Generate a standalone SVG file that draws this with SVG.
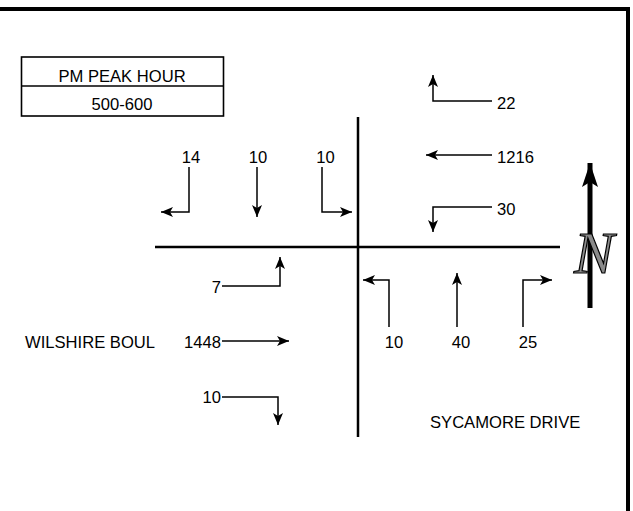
<svg xmlns="http://www.w3.org/2000/svg" width="633" height="511" viewBox="0 0 633 511">
  <style>
    .t { font-family: "Liberation Sans", Arial, sans-serif; font-size: 16.6px; fill: #000; }
    .m { text-anchor: middle; }
    .e { text-anchor: end; }
    .arr { fill: none; stroke: #000; stroke-width: 1.5; marker-end: url(#ah); }
    .road { fill: none; stroke: #000; stroke-width: 2.5; }
  </style>
  <defs>
    <marker id="ah" viewBox="0 0 12 10" refX="12" refY="5" markerWidth="12" markerHeight="10" markerUnits="userSpaceOnUse" orient="auto">
      <path d="M0,0 L12,5 L0,10 L3,5 Z" fill="#000"/>
    </marker>
    <marker id="nh" viewBox="0 0 24 16" refX="24" refY="8" markerWidth="24" markerHeight="16" markerUnits="userSpaceOnUse" orient="auto">
      <path d="M0,0 L24,8 L0,16 L5,8 Z" fill="#000"/>
    </marker>
  </defs>
  <rect width="633" height="511" fill="#fff"/>
  <g id="frame">
    <path d="M0,9 H628 V511" fill="none" stroke="#000" stroke-width="4"/>
  </g>
  <g id="peak-table">
    <rect x="21.5" y="57" width="202" height="59" fill="#fff" stroke="#000" stroke-width="1.6"/>
    <line x1="21.5" y1="86" x2="223.5" y2="86" stroke="#000" stroke-width="1.6"/>
    <text class="t m" x="122" y="82">PM PEAK HOUR</text>
    <text class="t m" x="122" y="110">500-600</text>
  </g>
  <g id="roads">
    <path class="road" d="M155,247 H560"/>
    <path class="road" d="M358,117 V437"/>
  </g>
  <g id="connectors">
    <path class="arr" d="M189,167 V212 H161"/>
    <path class="arr" d="M257,167 V217"/>
    <path class="arr" d="M322,167 V212 H352"/>
    <path class="arr" d="M492,101 H433 V75"/>
    <path class="arr" d="M492,155 H426"/>
    <path class="arr" d="M492,207 H433 V232"/>
    <path class="arr" d="M222,286 H280 V257"/>
    <path class="arr" d="M222,341 H289"/>
    <path class="arr" d="M222,397 H278 V425"/>
    <path class="arr" d="M389,327 V280 H363"/>
    <path class="arr" d="M457,327 V273"/>
    <path class="arr" d="M523,327 V280 H552"/>
  </g>
  <g id="labels">
    <text class="t m" x="191" y="163">14</text>
    <text class="t m" x="258" y="163">10</text>
    <text class="t m" x="325.5" y="163">10</text>
    <text class="t" x="497" y="109">22</text>
    <text class="t" x="497" y="163">1216</text>
    <text class="t" x="497" y="215">30</text>
    <text class="t e" x="221" y="293">7</text>
    <text class="t e" x="221" y="348">1448</text>
    <text class="t e" x="221" y="403">10</text>
    <text class="t m" x="394" y="348">10</text>
    <text class="t m" x="461" y="348">40</text>
    <text class="t m" x="528" y="348">25</text>
  </g>
  <g id="street-names">
    <text class="t" x="25" y="348">WILSHIRE BOUL</text>
    <text class="t" x="430" y="428">SYCAMORE DRIVE</text>
  </g>
  <g id="north-arrow">
    <line x1="590" y1="308" x2="590" y2="163" stroke="#000" stroke-width="5" marker-end="url(#nh)"/>
    <text x="594" y="273" text-anchor="middle" font-family="'Liberation Serif', serif" font-style="italic" font-size="60" fill="#8a8a8a" stroke="#000" stroke-width="1.2">N</text>
  </g>
</svg>
